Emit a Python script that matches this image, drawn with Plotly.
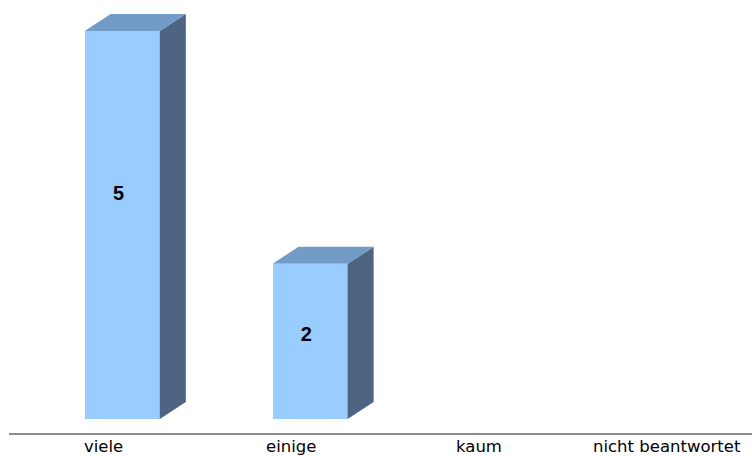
import plotly.graph_objects as go

categories = ["viele", "einige", "kaum", "nicht beantwortet"]
values = [5, 2, 0, 0]

FRONT = "#99CCFF"
TOP = "#729CC6"
SIDE = "#4E6482"

x_pos = list(range(len(categories)))
off, width = -0.1, 0.4
dx, dy = 0.1385, 0.219

fig = go.Figure()

# front faces
fig.add_trace(go.Bar(
    x=x_pos, y=values, base=0, offset=off, width=width,
    marker=dict(color=FRONT, line=dict(width=0)),
    hoverinfo="skip", showlegend=False,
))

# side and top faces computed from the data
for c, v in zip(x_pos, values):
    if v <= 0:
        continue
    l = c + off
    r = c + off + width
    fig.add_trace(go.Scatter(
        x=[r, r + dx, r + dx, r, r], y=[0, dy, v + dy, v, 0],
        mode="lines", fill="toself", fillcolor=SIDE,
        line=dict(width=0, color=SIDE), hoverinfo="skip", showlegend=False,
    ))
    fig.add_trace(go.Scatter(
        x=[l, r, r + dx, l + dx, l], y=[v, v, v + dy, v + dy, v],
        mode="lines", fill="toself", fillcolor=TOP,
        line=dict(width=0, color=TOP), hoverinfo="skip", showlegend=False,
    ))

# data labels
lab_x = [c + 0.08 for c, v in zip(x_pos, values) if v > 0]
lab_y = [0.6057 * v - 0.141 for v in values if v > 0]
lab_t = [str(v) for v in values if v > 0]
fig.add_trace(go.Scatter(
    x=lab_x, y=lab_y, text=lab_t, mode="text",
    textfont=dict(family="Liberation Sans, Arial", size=20, color="black", weight="bold"),
    hoverinfo="skip", showlegend=False,
))

# category labels under the axis line
for c, name in zip(x_pos, categories):
    fig.add_annotation(
        x=c, y=0, xref="x", yref="paper", text=name, showarrow=False,
        xanchor="center", yanchor="middle", yshift=-13, borderpad=0,
        font=dict(family="DejaVu Sans", size=16.5, color="black"),
    )

fig.update_layout(
    width=752, height=456,
    margin=dict(l=9, r=0, t=0, b=23),
    paper_bgcolor="white", plot_bgcolor="white",
    font=dict(family="Liberation Sans, Arial", size=18, color="black"),
    xaxis=dict(
        range=[-0.503, 3.453], tickmode="array", tickvals=x_pos, showticklabels=False,
        showgrid=False, zeroline=False, showline=True, linecolor="#8C8C8C", linewidth=2,
        ticks="", automargin=False, fixedrange=True,
    ),
    yaxis=dict(
        range=[-0.1804, 5.3995], visible=False, showgrid=False, zeroline=False,
        automargin=False, fixedrange=True,
    ),
    bargap=0,
)

fig.write_html(
    "out.html",
    config={"displayModeBar": False},
    post_script="document.body.style.margin='0';document.body.style.padding='0';",
)
